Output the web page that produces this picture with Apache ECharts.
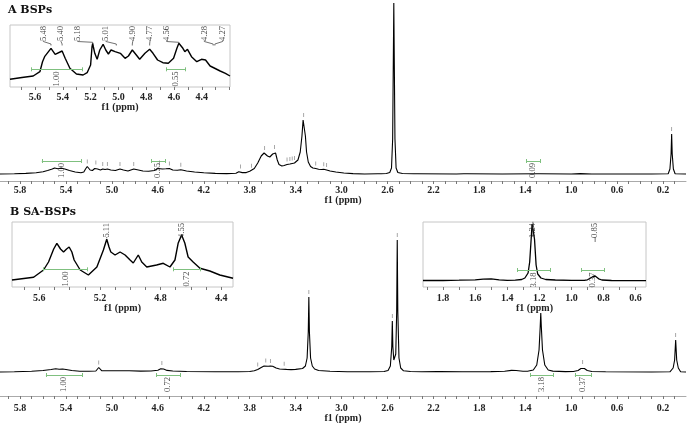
<!DOCTYPE html>
<html><head><meta charset="utf-8">
<script src="https://cdn.jsdelivr.net/npm/echarts@6/dist/echarts.min.js"></script>
<style>html,body{margin:0;padding:0;background:#fff}#c{width:689px;height:423px}</style>
</head><body><div id="c"></div>
<script>
// ---------- DATA (ppm, relative intensity) ----------
const specA = [[5.975,0],[5.85,0.2],[5.75,0.6],[5.66,1.2],[5.60,2.2],[5.56,3.5],[5.52,5],[5.50,6],[5.47,5.2],[5.44,5.8],[5.41,5],[5.37,3.5],[5.32,2],[5.27,1.2],[5.245,2],[5.23,5],[5.215,7.5],[5.205,7.5],[5.19,4],[5.17,3.5],[5.15,5.5],[5.14,6.5],[5.125,5],[5.10,4],[5.08,5],[5.06,4.5],[5.04,5],[5.01,4],[4.97,3.5],[4.93,5],[4.90,4],[4.86,3],[4.81,5],[4.78,4.3],[4.73,3],[4.68,2.8],[4.63,3.5],[4.60,5.5],[4.585,6.5],[4.56,5],[4.53,5.2],[4.50,5.5],[4.47,4],[4.43,3.8],[4.40,4.2],[4.35,3],[4.28,2],[4.20,1.2],[4.10,0.6],[4.00,0.4],[3.92,0.8],[3.895,2.3],[3.88,2.5],[3.865,1.4],[3.83,1.4],[3.80,2.8],[3.785,3.2],[3.76,5.5],[3.73,11],[3.70,18],[3.675,21],[3.665,21],[3.645,18],[3.625,17],[3.60,20],[3.585,22],[3.575,21],[3.56,14],[3.545,9.5],[3.52,8],[3.50,8.5],[3.49,8],[3.475,9.5],[3.46,8.5],[3.45,10],[3.44,9],[3.43,10.5],[3.41,11],[3.38,14],[3.36,22],[3.345,38],[3.335,54],[3.325,54],[3.315,38],[3.305,22],[3.29,12],[3.27,7.5],[3.25,6],[3.225,5.5],[3.20,4.8],[3.175,4.5],[3.155,4.8],[3.13,4],[3.10,3],[3.05,2],[2.98,1],[2.90,0.4],[2.80,0],[2.685,0.2],[2.67,1.3],[2.655,0.2],[2.61,0.5],[2.58,1.5],[2.565,6],[2.555,35],[2.545,171],[2.535,35],[2.525,6],[2.51,1.5],[2.47,0.5],[2.37,0.2],[2.355,1.0],[2.34,0.2],[2.00,0],[1.935,0.2],[1.92,2.2],[1.905,0.2],[1.60,0],[1.30,0.2],[1.285,1.2],[1.27,0.2],[1.00,0],[0.92,0.4],[0.82,0],[0.30,0],[0.155,0.3],[0.14,5],[0.13,20],[0.125,40],[0.12,20],[0.11,5],[0.095,0.3],[0,0]];
const specB = [[5.975,0],[5.85,0.3],[5.70,0.8],[5.60,1.5],[5.53,2.5],[5.49,3.2],[5.46,2.7],[5.43,3],[5.40,2.5],[5.35,1.5],[5.28,0.8],[5.20,0.7],[5.14,1],[5.125,2.5],[5.115,4.5],[5.105,2.5],[5.09,1.3],[5.02,1.2],[4.92,1.3],[4.85,1.2],[4.75,0.9],[4.66,1],[4.60,1.8],[4.575,3.2],[4.565,4],[4.55,3],[4.52,1.6],[4.47,1],[4.35,0.5],[4.10,0.2],[3.90,0.2],[3.80,0.5],[3.76,1.2],[3.73,2.5],[3.70,4.5],[3.675,6],[3.66,6.5],[3.64,5.8],[3.62,6],[3.60,5.8],[3.57,4],[3.54,3],[3.51,2.8],[3.50,3.2],[3.48,2.6],[3.44,2.4],[3.40,2.6],[3.34,3.5],[3.315,6],[3.30,14],[3.29,40],[3.285,75],[3.28,40],[3.27,14],[3.255,6],[3.235,3],[3.20,1.5],[3.10,0.8],[2.95,0.3],[2.75,0.2],[2.63,0.5],[2.595,1.5],[2.575,6],[2.563,25],[2.558,51],[2.553,25],[2.545,12],[2.537,10],[2.528,18],[2.52,60],[2.515,132],[2.51,60],[2.50,14],[2.485,4],[2.46,1.2],[2.40,0.5],[2.30,0.3],[2.17,0.4],[2.155,1.2],[2.14,0.4],[1.95,0.2],[1.70,0.4],[1.58,0.8],[1.52,1.6],[1.48,1.5],[1.42,0.8],[1.38,0.8],[1.33,2],[1.30,7],[1.28,22],[1.27,45],[1.265,59],[1.26,45],[1.25,22],[1.23,7],[1.20,2],[1.16,0.9],[1.05,0.4],[0.98,0.5],[0.94,1.5],[0.915,3.5],[0.90,5],[0.885,3.5],[0.86,1.5],[0.82,0.5],[0.70,0.2],[0.30,0],[0.14,0.2],[0.112,4],[0.099,12],[0.09,32],[0.081,12],[0.067,4],[0.047,0.2],[0,0]];
const insetA = [[5.78,7.7],[5.694,9.5],[5.613,11],[5.565,15.3],[5.546,25.3],[5.531,30.3],[5.485,38.7],[5.455,32.7],[5.405,36],[5.383,28.7],[5.349,18.7],[5.302,13],[5.254,12],[5.225,14.3],[5.20,22],[5.19,40],[5.185,43.7],[5.18,40],[5.17,33.7],[5.153,27.7],[5.134,37],[5.11,42.7],[5.091,37],[5.072,33],[5.053,37],[5.024,35.3],[5.01,37],[4.986,33.7],[4.952,28.7],[4.928,31],[4.90,37],[4.871,32],[4.847,27.7],[4.809,33.7],[4.775,37.7],[4.751,33.7],[4.718,27],[4.68,24.3],[4.641,23.7],[4.603,28.7],[4.579,38.7],[4.565,43.7],[4.536,38.7],[4.522,35.3],[4.503,37.7],[4.474,30.3],[4.436,25.3],[4.402,27.7],[4.373,27],[4.34,21],[4.318,19.5],[4.306,18.7],[4.268,16],[4.23,13.7],[4.197,11]];
const insetB1 = [[5.78,7],[5.6375,9.7],[5.572,17],[5.539,25],[5.505,38],[5.484,43.7],[5.46,38],[5.44,35],[5.42,38],[5.403,40],[5.385,35],[5.37,27],[5.33,17],[5.276,12],[5.22,20],[5.177,37],[5.155,47.7],[5.14,40],[5.128,35],[5.10,32],[5.067,35],[5.034,32],[5.001,27],[4.98,24],[4.947,32],[4.924,25],[4.891,20],[4.826,22],[4.782,23.7],[4.738,20],[4.705,27],[4.684,43.7],[4.661,52],[4.64,44],[4.618,30],[4.585,25],[4.54,18.7],[4.475,16],[4.409,12],[4.322,8.7]];
const insetB2 = [[1.925,6.5],[1.80,6.5],[1.70,6.8],[1.60,7.2],[1.55,7.8],[1.50,8.2],[1.45,7.2],[1.40,6.6],[1.35,6.8],[1.31,7.5],[1.29,9],[1.27,14],[1.26,25],[1.25,50],[1.245,63],[1.24,65],[1.235,63],[1.23,48],[1.22,22],[1.21,13],[1.19,9],[1.16,7.5],[1.10,7],[1.00,6.6],[0.92,6.6],[0.90,7.2],[0.88,9],[0.865,10.5],[0.852,11],[0.84,10],[0.83,8.2],[0.81,7],[0.75,6.5],[0.60,6.3],[0.535,6.3]];

// integrals: [from ppm, to ppm, value text]
const intsA = [[5.611,5.269,'1.00'],[4.658,4.536,'0.55'],[1.391,1.270,'0.09']];
const intsB = [[5.575,5.256,'1.00'],[4.614,4.405,'0.72'],[1.356,1.153,'3.18'],[0.968,0.823,'0.37']];
const intsInsetA = [[5.624,5.257,'1.00'],[4.653,4.521,'0.55']];
const intsInsetB1 = [[5.572,5.282,'1.00'],[4.716,4.541,'0.72']];
const intsInsetB2 = [[1.3375,1.129,'3.18'],[0.939,0.796,'0.37']];

// peak labels: [text, label ppm, peak ppm, peak value]
const peaksInsetA = [['5.48',5.54,5.485,38.7],['5.40',5.413,5.405,36],['5.18',5.293,5.185,43.7],['5.01',5.09,5.015,37],['4.90',4.897,4.90,37],['4.77',4.773,4.775,37.7],['4.56',4.653,4.565,43.7],['4.28',4.382,4.318,19.5],['4.27',4.25,4.306,18.7]];
const peaksInsetB1 = [['5.11',5.155,5.155,47.7],['4.55',4.661,4.661,52]];
const peaksInsetB2 = [['1.24',1.24,1.24,65],['0.85',0.852,0.852,11]];

// peak-picking marks (ppm, peak value)
const marksA = [[5.215,7.5],[5.14,6.5],[5.08,5],[5.04,5],[4.93,5],[4.81,5],[4.585,6.5],[4.50,5.5],[4.40,4.2],[3.88,2.5],[3.785,3.2],[3.67,21],[3.585,22],[3.475,9.5],[3.45,10],[3.43,10.5],[3.41,11],[3.33,54],[3.225,5.5],[3.155,4.8],[3.13,4],[2.545,171],[0.125,40]];
const marksB = [[5.115,4.5],[4.565,4],[3.73,2.5],[3.66,6.5],[3.62,6],[3.50,3.2],[3.285,75],[2.558,51],[2.515,132],[1.265,59],[0.90,5],[0.09,32]];

// axis ticks / labels
const mainTicks = []; for (let t = 1; t <= 59; t++) mainTicks.push(t / 10);
const mainLabels = [5.8,5.4,5.0,4.6,4.2,3.8,3.4,3.0,2.6,2.2,1.8,1.4,1.0,0.6,0.2];
const insetATicks = [5.7,5.6,5.5,5.4,5.3,5.2,5.1,5.0,4.9,4.8,4.7,4.6,4.5,4.4,4.3,4.2];
const insetALabels = [5.6,5.4,5.2,5.0,4.8,4.6,4.4];
const insetB1Ticks = [5.7,5.6,5.5,5.4,5.3,5.2,5.1,5.0,4.9,4.8,4.7,4.6,4.5,4.4];
const insetB1Labels = [5.6,5.2,4.8,4.4];
const insetB2Ticks = [1.9,1.8,1.7,1.6,1.5,1.4,1.3,1.2,1.1,1.0,0.9,0.8,0.7,0.6];
const insetB2Labels = [1.8,1.6,1.4,1.2,1.0,0.8,0.6];

// ---------- CHART ----------
const SERIF = 'Liberation Serif';
const GREEN = '#7fc07f';
const grids = [
  {left: 0, right: 3, top: 3, height: 178},     // 0 main A
  {left: 10, width: 220, top: 25, height: 62, show: true, borderColor: '#c6c6c6', borderWidth: 1}, // 1 inset A
  {left: 0, right: 3, top: 230, height: 166},   // 2 main B
  {left: 12, width: 221, top: 222, height: 65, show: true, borderColor: '#c6c6c6', borderWidth: 1}, // 3 inset B1
  {left: 423, width: 223, top: 222, height: 65, show: true, borderColor: '#c6c6c6', borderWidth: 1}  // 4 inset B2
].map(g => Object.assign({outerBoundsMode: 'none', containLabel: false}, g));

function xAx(gi, min, max, ticks, labels, margin, nameGap, showLine) {
  return {
    type: 'value', gridIndex: gi, inverse: true, min: min, max: max,
    axisLine: {show: showLine, onZero: false, lineStyle: {color: '#aaaaaa', width: 1}},
    axisTick: {show: true, inside: false, length: 3, customValues: ticks, lineStyle: {color: '#777', width: 1}},
    axisLabel: {customValues: labels, margin: margin, fontFamily: SERIF, fontWeight: 'bold', fontSize: 10, color: '#222',
      formatter: v => v.toFixed(1)},
    splitLine: {show: false},
    name: 'f1 (ppm)', nameLocation: 'middle', nameGap: nameGap,
    nameTextStyle: {fontFamily: SERIF, fontWeight: 'bold', fontSize: 10, color: '#222'}
  };
}
const xAxes = [
  xAx(0, 0, 5.975, mainTicks, mainLabels, 4, 14, true),
  xAx(1, 4.197, 5.78, insetATicks, insetALabels, 5, 15, false),
  xAx(2, 0, 5.975, mainTicks, mainLabels, 7, 16, true),
  xAx(3, 4.322, 5.78, insetB1Ticks, insetB1Labels, 6, 15, false),
  xAx(4, 0.535, 1.925, insetB2Ticks, insetB2Labels, 6, 15, false)
];
const yRanges = [[-7, 171], [0, 62], [-24, 142], [0, 65], [0, 65]];
const yAxes = yRanges.map((r, i) => ({type: 'value', gridIndex: i, min: r[0], max: r[1], show: false}));

const series = [];
function spec(gi, data, w) {
  series.push({type: 'line', xAxisIndex: gi, yAxisIndex: gi, data: data, symbol: 'none', showSymbol: false,
    lineStyle: {color: '#000', width: w}, silent: true, clip: true, z: 3});
}
function integrals(gi, list, level, labelTop) {
  const segs = [];
  list.forEach(it => {
    segs.push({coords: [[it[0], level], [it[1], level]]});
    segs.push({coords: [[it[0], level - 2], [it[0], level + 2]]});
    segs.push({coords: [[it[1], level - 2], [it[1], level + 2]]});
  });
  series.push({type: 'lines', coordinateSystem: 'cartesian2d', xAxisIndex: gi, yAxisIndex: gi, data: segs,
    lineStyle: {color: GREEN, width: 1, opacity: 1}, silent: true, z: 4});
  series.push({type: 'scatter', xAxisIndex: gi, yAxisIndex: gi, symbolSize: 1, itemStyle: {color: 'rgba(0,0,0,0)'},
    data: list.map(it => ({value: [(it[0] + it[1]) / 2, labelTop], name: it[2]})),
    label: {show: true, position: 'inside', formatter: '{b}', rotate: 90, align: 'right', verticalAlign: 'middle',
      fontFamily: SERIF, fontSize: 8.5, color: '#111'}, silent: true, z: 5});
}
function peakLabels(gi, list, top, textBottom, bendV, vertical) {
  series.push({type: 'scatter', xAxisIndex: gi, yAxisIndex: gi, symbolSize: 1, itemStyle: {color: 'rgba(0,0,0,0)'},
    data: list.map(p => ({value: [p[1], top], name: p[0]})),
    label: {show: true, position: 'inside', formatter: '{b}', rotate: 90, align: 'right', verticalAlign: 'middle',
      fontFamily: SERIF, fontSize: 8.5, color: '#111'}, silent: true, z: 5});
  const segs = list.map(p => {
    if (vertical) {
      const end = Math.max(p[3] + 1, textBottom - 5);
      return {coords: [[p[1], textBottom], [p[2], end]]};
    }
    const bend = Math.max(bendV, p[3] + 1);
    return {coords: [[p[1], textBottom], [p[1], textBottom - 1], [p[2], bend], [p[2], bend - 1.5]]};
  });
  series.push({type: 'lines', coordinateSystem: 'cartesian2d', xAxisIndex: gi, yAxisIndex: gi, polyline: true, data: segs,
    lineStyle: {color: '#333', width: 0.7, opacity: 1}, silent: true, z: 4});
}
function marks(gi, list) {
  series.push({type: 'scatter', xAxisIndex: gi, yAxisIndex: gi, symbol: 'rect', symbolSize: [0.8, 4], symbolOffset: [0, -5],
    itemStyle: {color: '#777'}, data: list, silent: true, z: 4});
}

spec(0, specA, 1.1); spec(1, insetA, 1.4); spec(2, specB, 1.1); spec(3, insetB1, 1.4); spec(4, insetB2, 1.3);
marks(0, marksA); marks(2, marksB);
integrals(0, intsA, 13, 11);
integrals(2, intsB, -3, -5);
integrals(1, intsInsetA, 17.7, 15.5);
integrals(3, intsInsetB1, 17.7, 15.5);
integrals(4, intsInsetB2, 17, 14.5);
peakLabels(1, peaksInsetA, 61, 46.5, 43, false);
peakLabels(3, peaksInsetB1, 64, 50, 0, true);
peakLabels(4, peaksInsetB2, 64, 50, 0, true);

const chart = echarts.init(document.getElementById('c'), null, {renderer: 'canvas'});
chart.setOption({
  animation: false,
  backgroundColor: '#fff',
  title: [
    {text: 'A BSPs', left: 8, top: 5, padding: 0, textStyle: {fontFamily: 'DejaVu Serif', fontWeight: 'bold', fontSize: 11, color: '#111'}},
    {text: 'B SA-BSPs', left: 10, top: 207, padding: 0, textStyle: {fontFamily: 'DejaVu Serif', fontWeight: 'bold', fontSize: 11, color: '#111'}}
  ],
  grid: grids, xAxis: xAxes, yAxis: yAxes, series: series
});
</script></body></html>
